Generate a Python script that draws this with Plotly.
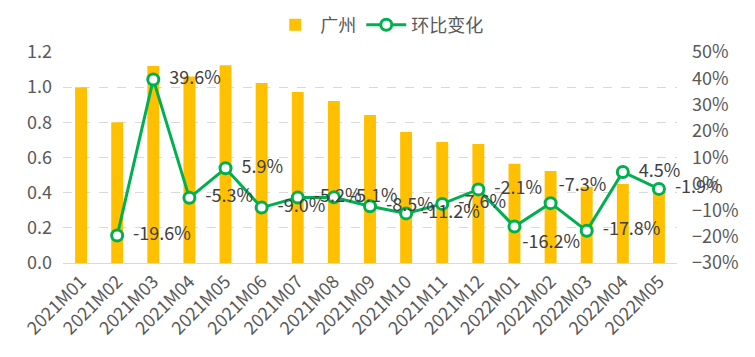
import plotly.graph_objects as go

months = ["2021M01", "2021M02", "2021M03", "2021M04", "2021M05", "2021M06",
          "2021M07", "2021M08", "2021M09", "2021M10", "2021M11", "2021M12",
          "2022M01", "2022M02", "2022M03", "2022M04", "2022M05"]
guangzhou = [1.00, 0.80, 1.12, 1.06, 1.125, 1.024, 0.972, 0.921, 0.842,
             0.745, 0.688, 0.677, 0.564, 0.523, 0.434, 0.450, 0.444]
mom_change = [None, -0.196, 0.396, -0.053, 0.059, -0.090, -0.052, -0.051,
              -0.085, -0.112, -0.076, -0.021, -0.162, -0.073, -0.178, 0.045, -0.019]

left_ticks = [0.0, 0.2, 0.4, 0.6, 0.8, 1.0, 1.2]
right_ticks = [-0.3, -0.2, -0.1, 0.0, 0.1, 0.2, 0.3, 0.4, 0.5]

label_pos = ["middle right"] * len(months)
label_pos[12] = "bottom right"
label_pos[13] = "top right"
label_tpl = ["  %{y:.1%}" if p == "middle right" else "%{y:.1%}" for p in label_pos]

FONT = "Noto Sans CJK SC"
TICK_COLOR = "#595959"
LABEL_COLOR = "#404040"
FS = 18

fig = go.Figure()
fig.add_trace(go.Bar(
    x=months, y=guangzhou, name="广州",
    marker=dict(color="#FFC000", line=dict(width=0)),
    yaxis="y",
))
fig.add_trace(go.Scatter(
    x=months, y=mom_change, name="环比变化", yaxis="y2",
    mode="lines+markers+text",
    line=dict(color="#00B050", width=3),
    marker=dict(symbol="circle", size=11, color="white",
                line=dict(color="#00B050", width=3)),
    texttemplate=label_tpl, textposition=label_pos,
    textfont=dict(family=FONT, size=FS, color=LABEL_COLOR),
    cliponaxis=False,
))

fig.update_layout(
    width=747, height=349,
    margin=dict(l=55, r=78, t=44, b=94, autoexpand=False),
    paper_bgcolor="white", plot_bgcolor="white",
    font=dict(family=FONT, size=FS, color=TICK_COLOR),
    bargap=0.67,
    showlegend=True,
    legend=dict(orientation="h", xref="container", x=0.497, xanchor="center",
                yref="container", y=0.951, yanchor="middle",
                font=dict(family=FONT, size=FS, color=TICK_COLOR),
                itemwidth=40, bgcolor="rgba(0,0,0,0)"),
    xaxis=dict(type="category", range=[-0.5, 16.5], tickangle=-45,
               showgrid=False, automargin=False,
               showline=True, linecolor="#D9D9D9", linewidth=1,
               ticks="", tickfont=dict(family=FONT, size=FS, color=TICK_COLOR)),
    yaxis=dict(range=[0, 1.2], tickvals=left_ticks, tickformat=".1f", automargin=False,
               showgrid=True, gridcolor="#D9D9D9", griddash="dash", gridwidth=1,
               zeroline=False, showline=False, ticks="", ticklabelstandoff=10,
               tickfont=dict(family=FONT, size=FS, color=TICK_COLOR)),
    yaxis2=dict(range=[-0.3, 0.5], tickvals=right_ticks, tickformat=".0%",
                overlaying="y", side="right", showgrid=False, zeroline=False,
                automargin=False,
                showline=False, ticks="", ticklabelstandoff=14,
                tickfont=dict(family=FONT, size=FS, color=TICK_COLOR)),
)

fig.write_html("out.html")
